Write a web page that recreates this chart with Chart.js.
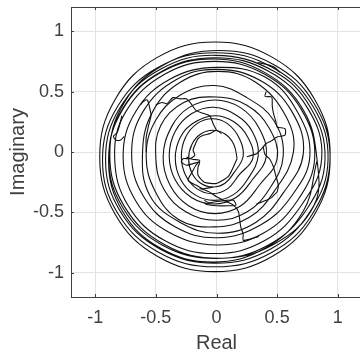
<!DOCTYPE html>
<html>
<head>
<meta charset="utf-8">
<script src="https://cdn.jsdelivr.net/npm/chart.js@4.4.1/dist/chart.umd.min.js"></script>
<style>
  html, body { margin: 0; padding: 0; overflow: hidden; background: #fff; }
  #wrap { width: 380px; height: 358px; }
</style>
</head>
<body>
<div id="wrap"><canvas id="trajectory"></canvas></div>
<script>
// tick positions on both axes
const realTicks = [-1, -0.5, 0, 0.5, 1];
const imagTicks = [-1, -0.5, 0, 0.5, 1];

// [real, imaginary] samples of the trajectory, centre outwards
const core = [
    [0.041, 0.152], [0.0, 0.18], [-0.055, 0.152], [-0.11, 0.138], [-0.152, 0.111],
    [-0.179, 0.055], [-0.193, 0.014], [-0.179, -0.027], [-0.22, -0.055], [-0.276, -0.055],
    [-0.29, -0.083], [-0.248, -0.11], [-0.193, -0.096], [-0.138, -0.083], [-0.152, -0.124],
    [-0.152, -0.193], [-0.1, -0.25], [0.0, -0.26], [0.1, -0.2], [0.17, -0.055]
];

const innerTurns = [
    [0.17, -0.055], [0.143, 0.063], [0.07, 0.149], [-0.03, 0.18], [-0.13, 0.149], [-0.203, 0.063],
    [-0.23, -0.055], [-0.203, -0.173], [-0.13, -0.259], [-0.03, -0.29], [0.07, -0.259], [0.143, -0.173],
    [0.22, -0.035], [0.19, 0.11], [0.093, 0.233], [-0.035, 0.275], [-0.163, 0.233], [-0.256, 0.12],
    [-0.29, -0.035], [-0.256, -0.19], [-0.163, -0.303], [-0.035, -0.345], [0.093, -0.303], [0.186, -0.19],
    [0.30, -0.05], [0.257, 0.125], [0.14, 0.253], [-0.02, 0.30], [-0.19, 0.24], [-0.297, 0.125],
    [-0.34, -0.05], [-0.297, -0.225], [-0.18, -0.353], [-0.02, -0.40], [0.14, -0.353], [0.257, -0.225],
    [0.344, -0.03], [0.295, 0.17], [0.17, 0.30], [-0.023, 0.37], [-0.207, 0.316], [-0.341, 0.17],
    [-0.39, -0.03], [-0.341, -0.23], [-0.207, -0.376], [-0.023, -0.43], [0.161, -0.376], [0.295, -0.23],
    [0.41, -0.04], [0.353, 0.195], [0.198, 0.367], [-0.015, 0.43], [-0.228, 0.367], [-0.37, 0.21],
    [-0.44, -0.04], [-0.383, -0.275], [-0.228, -0.447], [-0.015, -0.51], [0.198, -0.447], [0.353, -0.275]
];

const middleTurns = [
    [0.5, -0.055], [0.433, 0.20], [0.25, 0.387], [0.0, 0.455], [-0.27, 0.41], [-0.46, 0.22],
    [-0.5, -0.055], [-0.433, -0.31], [-0.25, -0.497], [0.0, -0.565], [0.25, -0.497], [0.433, -0.31],
    [0.55, -0.035], [0.474, 0.258], [0.25, 0.45], [-0.015, 0.55], [-0.298, 0.472], [-0.504, 0.258],
    [-0.58, -0.035], [-0.504, -0.328], [-0.31, -0.56], [-0.015, -0.62], [0.268, -0.542], [0.474, -0.328],
    [0.634, -0.003], [0.57, 0.30], [0.323, 0.577], [0.012, 0.667], [-0.299, 0.577], [-0.527, 0.332],
    [-0.61, -0.003], [-0.55, -0.36], [-0.299, -0.583], [0.012, -0.673], [0.323, -0.583], [0.551, -0.338],
    [0.716, -0.013], [0.621, 0.336], [0.362, 0.591], [0.008, 0.684], [-0.33, 0.60], [-0.605, 0.336],
    [-0.70, -0.013], [-0.605, -0.362], [-0.346, -0.617], [0.008, -0.71], [0.37, -0.60], [0.621, -0.362],
    [0.77, -0.035], [0.667, 0.333], [0.40, 0.62], [0.0, 0.70], [-0.385, 0.602], [-0.667, 0.333],
    [-0.77, -0.035], [-0.667, -0.403], [-0.40, -0.66], [0.0, -0.77], [0.385, -0.672], [0.667, -0.403]
];

const outerTurns = [
    [0.81, -0.045], [0.699, 0.353], [0.398, 0.643], [-0.015, 0.75], [-0.428, 0.643], [-0.75, 0.33],
    [-0.84, -0.045], [-0.729, -0.443], [-0.428, -0.733], [-0.015, -0.84], [0.398, -0.733], [0.699, -0.443],
    [0.868, -0.05], [0.75, 0.365], [0.429, 0.669], [-0.01, 0.78], [-0.449, 0.669], [-0.77, 0.365],
    [-0.888, -0.05], [-0.77, -0.465], [-0.449, -0.769], [-0.01, -0.88], [0.429, -0.769], [0.75, -0.465],
    [0.895, -0.06], [0.774, 0.37], [0.47, 0.67], [-0.01, 0.80], [-0.463, 0.685], [-0.794, 0.37],
    [-0.915, -0.06], [-0.794, -0.49], [-0.463, -0.805], [-0.01, -0.92], [0.443, -0.805], [0.774, -0.49],
    [0.92, -0.064], [0.795, 0.379], [0.455, 0.703], [-0.01, 0.822], [-0.475, 0.703], [-0.815, 0.379],
    [-0.94, -0.064], [-0.815, -0.507], [-0.475, -0.831], [-0.01, -0.95], [0.455, -0.831], [0.795, -0.507],
    [0.937, -0.04], [0.81, 0.435], [0.462, 0.783], [-0.013, 0.91], [-0.488, 0.783], [-0.836, 0.435],
    [-0.963, -0.04], [-0.836, -0.515], [-0.488, -0.863], [-0.013, -0.99], [0.462, -0.863], [0.81, -0.515],
    [0.937, -0.04]
];

// last two turns drift back inside the outer ring
const lateTurns = [
    [0.80, 0.41], [0.47, 0.725], [0.02, 0.84], [-0.43, 0.725], [-0.76, 0.41],
    [-0.88, -0.02], [-0.76, -0.45], [-0.43, -0.765], [0.02, -0.88], [0.47, -0.765], [0.80, -0.45],
    [0.83, -0.07], [0.715, 0.35], [0.40, 0.657], [-0.03, 0.77], [-0.46, 0.657], [-0.775, 0.35],
    [-0.89, -0.07], [-0.775, -0.49], [-0.46, -0.797], [-0.03, -0.91], [0.40, -0.797], [0.715, -0.49],
    [0.83, -0.07]
];

// short excursions that cut across the rings
const upperDrift = [
    [-0.50, 0.39], [-0.45, 0.41], [-0.41, 0.40], [-0.36, 0.45], [-0.30, 0.44], [-0.25, 0.44],
    [-0.21, 0.40], [-0.17, 0.345], [-0.11, 0.32], [-0.055, 0.30], [-0.03, 0.24], [0.0, 0.18]
];
const rightDrift = [
    [0.41, 0.50], [0.40, 0.46], [0.455, 0.455], [0.46, 0.38], [0.47, 0.32], [0.49, 0.25],
    [0.50, 0.207], [0.565, 0.193], [0.565, 0.14], [0.50, 0.124], [0.45, 0.09], [0.41, 0.07],
    [0.36, 0.014], [0.33, -0.014], [0.28, -0.03], [0.25, -0.04]
];
const rightLowerDrift = [
    [0.386, 0.04], [0.40, -0.02], [0.44, -0.06], [0.47, -0.124], [0.49, -0.2], [0.51, -0.276],
    [0.50, -0.33], [0.48, -0.35], [0.45, -0.38], [0.41, -0.40], [0.36, -0.42], [0.33, -0.43]
];
const lowerDrift = [
    [-0.14, -0.30], [-0.06, -0.33], [0.0, -0.37], [0.08, -0.41], [0.14, -0.44], [0.18, -0.49],
    [0.19, -0.55], [0.20, -0.62], [0.22, -0.68], [0.22, -0.73], [0.28, -0.72], [0.35, -0.70]
];
const pocket = [
    [-0.10, -0.40], [-0.06, -0.42], [0.0, -0.41], [0.08, -0.40], [0.14, -0.40], [0.16, -0.44],
    [0.10, -0.445], [0.0, -0.445], [-0.08, -0.435], [-0.10, -0.42]
];
const leftDrift = [
    [-0.63, 0.39], [-0.60, 0.42], [-0.57, 0.43], [-0.55, 0.36], [-0.54, 0.30], [-0.56, 0.22],
    [-0.58, 0.12], [-0.58, 0.0]
];
const leftHook = [
    [-0.78, 0.30], [-0.80, 0.22], [-0.82, 0.16], [-0.85, 0.13], [-0.83, 0.10], [-0.79, 0.10], [-0.76, 0.13]
];
const centreDrift = [
    [-0.248, -0.041], [-0.20, -0.06], [-0.138, -0.069], [-0.17, -0.11], [-0.193, -0.152],
    [-0.234, -0.235], [-0.165, -0.276], [-0.11, -0.304], [-0.028, -0.29]
];
const topBump = [
    [0.34, 0.74], [0.386, 0.731], [0.44, 0.717], [0.49, 0.69], [0.52, 0.662], [0.48, 0.70], [0.42, 0.72]
];

const INK = '#111111';
const AXIS = '#404040';

function toPoints(pairs) {
    return pairs.map(p => ({x: p[0], y: p[1]}));
}

function pathSet(pairs, tension) {
    return {
        data: toPoints(pairs),
        showLine: true,
        borderColor: INK,
        borderWidth: 1.1,
        pointRadius: 0,
        tension: tension
    };
}

// MATLAB-like box: top edge and inward tick marks
const boxTicks = {
    id: 'boxTicks',
    afterDraw(chart) {
        const ctx = chart.ctx;
        const a = chart.chartArea;
        const xs = chart.scales.x;
        const ys = chart.scales.y;
        ctx.save();
        ctx.strokeStyle = AXIS;
        ctx.lineWidth = 1;
        ctx.beginPath();
        ctx.moveTo(a.left, a.top + 0.5);
        ctx.lineTo(a.right, a.top + 0.5);
        xs.ticks.forEach(t => {
            const px = Math.round(xs.getPixelForValue(t.value)) + 0.5;
            ctx.moveTo(px, a.bottom);
            ctx.lineTo(px, a.bottom - 3);
            ctx.moveTo(px, a.top);
            ctx.lineTo(px, a.top + 3);
        });
        ys.ticks.forEach(t => {
            const py = Math.round(ys.getPixelForValue(t.value)) + 0.5;
            ctx.moveTo(a.left, py);
            ctx.lineTo(a.left + 3, py);
        });
        ctx.stroke();
        ctx.restore();
    }
};

const tickFont = {family: '"Liberation Sans", Arial, sans-serif', size: 18};
const titleFont = {family: '"Liberation Sans", Arial, sans-serif', size: 20};

new Chart(document.getElementById('trajectory'), {
    type: 'scatter',
    data: {
        datasets: [
            pathSet(core, 0.2),
            pathSet(innerTurns.concat(middleTurns, outerTurns, lateTurns), 0.4),
            pathSet(upperDrift, 0.25),
            pathSet(rightDrift, 0.25),
            pathSet(rightLowerDrift, 0.25),
            pathSet(lowerDrift, 0.25),
            pathSet(pocket, 0.25),
            pathSet(leftDrift, 0.25),
            pathSet(leftHook, 0.25),
            pathSet(centreDrift, 0.25),
            pathSet(topBump, 0.25)
        ]
    },
    options: {
        animation: false,
        responsive: true,
        maintainAspectRatio: false,
        layout: {padding: {top: 7, right: 18, left: 0, bottom: 0}},
        plugins: {legend: {display: false}, tooltip: {enabled: false}},
        scales: {
            x: {
                type: 'linear',
                min: -1.2,
                max: 1.2,
                afterBuildTicks: scale => { scale.ticks = realTicks.map(v => ({value: v})); },
                afterFit: scale => {
                    scale.height = 61;
                    scale.paddingLeft = 0;
                    scale.paddingRight = 0;
                },
                grid: {color: '#e3e3e3', lineWidth: 1, drawTicks: false},
                border: {color: AXIS, width: 1},
                ticks: {font: tickFont, color: AXIS, padding: 10, maxRotation: 0,
                        callback: v => String(v)},
                title: {display: true, text: 'Real', font: titleFont, color: AXIS,
                        padding: {top: 0, bottom: 3}}
            },
            y: {
                type: 'linear',
                min: -1.2,
                max: 1.2,
                afterBuildTicks: scale => { scale.ticks = imagTicks.map(v => ({value: v})); },
                afterFit: scale => {
                    scale.width = 71;
                    scale.paddingTop = 0;
                    scale.paddingBottom = 0;
                },
                grid: {color: '#e3e3e3', lineWidth: 1, drawTicks: false},
                border: {color: AXIS, width: 1},
                ticks: {font: tickFont, color: AXIS, padding: 7,
                        callback: v => String(v)},
                title: {display: true, text: 'Imaginary', font: titleFont, color: AXIS,
                        padding: {top: 6, bottom: 0}}
            }
        }
    },
    plugins: [boxTicks]
});
</script>
</body>
</html>
